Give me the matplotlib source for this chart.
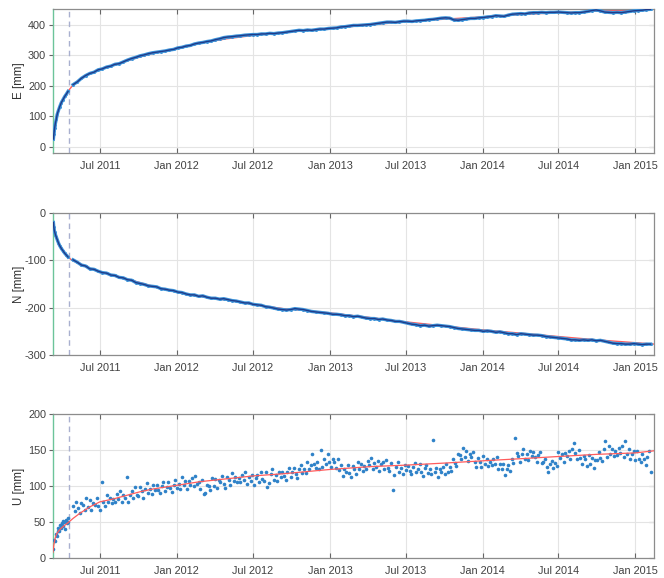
import numpy as np
import matplotlib
matplotlib.use('Agg')
import matplotlib.pyplot as plt
from matplotlib import font_manager

# ---------------- data ----------------
start = np.datetime64('2011-03-11')
span_days = 1436
event_day = 38

tick_dates = ['2011-07-01', '2012-01-01', '2012-07-01', '2013-01-01',
              '2013-07-01', '2014-01-01', '2014-07-01', '2015-01-01']
tick_labels = ['Jul 2011', 'Jan 2012', 'Jul 2012', 'Jan 2013',
               'Jul 2013', 'Jan 2014', 'Jul 2014', 'Jan 2015']

# fitted model curves (red)
fit_days = [0, 2, 5, 9, 17, 25, 38, 48, 64, 88, 112, 144, 176, 208, 240, 296,
            351, 415, 478, 550, 662, 760, 843, 940, 1027, 1120, 1208, 1300, 1392, 1437]
e_fit = [0, 40, 71, 100, 135, 157, 186, 203, 221, 240, 254, 268, 282, 295, 307, 324,
         340, 355, 366, 376, 389, 401, 411, 420, 427, 435, 441, 446, 450, 452]
n_fit = [-8, -30, -43, -53, -71, -82, -95, -101, -107, -117, -124, -132, -139, -147, -155, -167,
         -176, -184, -193, -202, -211, -221, -230, -239, -247, -254, -261, -268, -274, -277]
u_fit = [8, 18, 27, 34, 40, 44, 50, 55, 62, 71, 78, 82, 87, 92, 96, 101,
         106, 110, 114, 117, 123, 127, 129, 132, 135, 138, 141, 144, 146, 149]

# E / N observations
en_days_early = [1, 2, 3, 4, 5, 6, 8, 10, 13, 16, 20, 24, 28, 32, 36]
e_early = [25, 40, 52, 62, 71, 78, 91, 106, 119, 131, 145, 155, 165, 173, 182]
n_early = [-20, -30, -36, -40, -43, -46, -51, -56, -63, -69, -75, -80, -85, -89, -93]
en_days_late = np.arange(48, 1429, 10)
e_late = [204, 213, 225, 234, 241, 245, 253, 256, 262, 265,
          271, 273, 279, 285, 290, 294, 299, 302, 306, 309,
          311, 313, 315, 318, 320, 325, 327, 331, 333, 338,
          341, 343, 346, 348, 352, 355, 359, 361, 362, 364,
          365, 367, 368, 369, 369, 371, 371, 373, 372, 374,
          375, 377, 379, 381, 383, 382, 384, 383, 385, 387,
          387, 389, 390, 391, 394, 395, 397, 399, 399, 400,
          401, 402, 404, 406, 408, 410, 410, 409, 411, 413,
          413, 412, 414, 415, 416, 418, 419, 421, 423, 424,
          423, 417, 416, 418, 420, 422, 422, 424, 425, 427,
          428, 431, 430, 429, 433, 436, 437, 438, 437, 440,
          441, 441, 442, 441, 442, 442, 443, 442, 441, 440,
          441, 441, 443, 445, 448, 450, 447, 443, 442, 441,
          442, 441, 443, 445, 447, 448, 449, 451, 452]
n_late = [-99, -104, -110, -112, -118, -119, -123, -126, -127, -131,
          -132, -136, -137, -141, -142, -147, -149, -151, -154, -155,
          -156, -160, -161, -163, -164, -167, -168, -171, -173, -173,
          -176, -175, -178, -180, -180, -182, -181, -183, -185, -186,
          -188, -190, -190, -193, -194, -195, -198, -199, -201, -203,
          -204, -205, -204, -202, -203, -204, -206, -208, -209, -210,
          -211, -212, -214, -214, -215, -217, -217, -219, -218, -220,
          -222, -223, -223, -225, -224, -226, -227, -229, -229, -231,
          -233, -235, -236, -238, -237, -239, -238, -237, -238, -239,
          -240, -242, -244, -245, -246, -247, -248, -248, -250, -249,
          -250, -252, -251, -253, -255, -255, -257, -255, -256, -257,
          -258, -258, -259, -261, -262, -263, -264, -265, -266, -268,
          -268, -269, -268, -269, -268, -270, -269, -271, -273, -275,
          -276, -276, -277, -277, -276, -277, -278, -277, -277]

# U observations
u_days_early = np.arange(1, 38, 2)
u_early = [12, 25, 24, 33, 30, 38, 42, 37, 46, 41, 48, 52, 44, 50, 40, 53, 48, 55, 50]
u_days_late = np.arange(48, 1429, 4)
u_late = [72, 65, 78, 69, 62, 76, 73, 67, 83, 71, 80, 67, 77, 74, 83, 72, 67, 106, 78, 72, 88, 78, 84, 76, 82,
          78, 89, 82, 93, 78, 87, 83, 112, 78, 88, 93, 83, 98, 88, 86, 98, 93, 84, 96, 104, 90, 96, 89, 101, 95,
          101, 94, 90, 100, 106, 93, 99, 105, 97, 91, 102, 108, 97, 103, 96, 113, 102, 107, 96, 107, 102, 111, 100, 114, 103,
          106, 96, 108, 89, 90, 102, 100, 94, 111, 100, 110, 97, 108, 105, 114, 103, 97, 113, 108, 101, 118, 107, 113, 105, 111,
          105, 115, 108, 119, 103, 112, 107, 115, 102, 111, 115, 105, 119, 110, 107, 119, 98, 104, 116, 124, 109, 115, 107, 120, 113,
          120, 114, 109, 120, 125, 113, 119, 125, 117, 111, 123, 129, 118, 124, 118, 134, 124, 129, 145, 130, 125, 134, 124, 150, 127,
          138, 130, 144, 133, 126, 138, 134, 125, 138, 122, 129, 114, 123, 120, 129, 118, 113, 128, 124, 117, 134, 123, 130, 121, 128,
          124, 135, 129, 139, 123, 132, 127, 135, 121, 130, 134, 123, 136, 125, 121, 132, 94, 115, 126, 134, 119, 125, 117, 129, 122,
          128, 121, 116, 127, 132, 119, 124, 130, 120, 114, 125, 129, 118, 123, 116, 164, 120, 125, 113, 124, 119, 127, 116, 130, 119,
          126, 121, 138, 132, 128, 144, 143, 137, 153, 140, 149, 135, 144, 140, 147, 134, 126, 139, 133, 126, 142, 131, 137, 128, 134,
          129, 138, 131, 140, 123, 130, 123, 130, 115, 124, 129, 121, 138, 132, 166, 146, 141, 133, 144, 152, 138, 144, 136, 148, 141,
          147, 140, 134, 143, 147, 132, 134, 137, 126, 119, 130, 135, 125, 132, 128, 147, 139, 145, 134, 146, 141, 149, 138, 152, 160,
          146, 138, 150, 139, 131, 142, 137, 128, 143, 130, 139, 125, 136, 136, 147, 139, 135, 151, 163, 140, 156, 145, 151, 142, 148,
          143, 153, 146, 156, 140, 162, 144, 152, 137, 145, 148, 136, 148, 137, 133, 145, 138, 129, 140, 148, 120]

panels = [
    ('E [mm]', e_fit, en_days_early, e_early, en_days_late, e_late, (-21, 453), [0, 100, 200, 300, 400], 'line'),
    ('N [mm]', n_fit, en_days_early, n_early, en_days_late, n_late, (-300, 0), [-300, -200, -100, 0], 'line'),
    ('U [mm]', u_fit, u_days_early, u_early, u_days_late, u_late, (0, 200), [0, 50, 100, 150, 200], 'dots'),
]

# ---------------- style ----------------
names = {f.name for f in font_manager.fontManager.ttflist}
tick_font = 'Liberation Sans Narrow' if 'Liberation Sans Narrow' in names else 'Liberation Sans'
plt.rcParams['font.family'] = [tick_font, 'DejaVu Sans']
plt.rcParams['axes.unicode_minus'] = False

def to_dates(days):
    return start + np.asarray(days).astype('timedelta64[D]')

fig = plt.figure(figsize=(6.64, 5.78), dpi=100)
rects = [(0.0798, 0.7353, 0.905, 0.2491),
         (0.0798, 0.3858, 0.905, 0.2457),
         (0.0798, 0.0346, 0.905, 0.2491)]

light_blue = '#3f95da'
dark_blue = '#1f3b8a'
red = '#ff5c5c'
label_size = 8.5 if tick_font.endswith('Narrow') else 7.8

for rect, (label, fit, d_early, v_early, d_late, v_late, ylim, yticks, kind) in zip(rects, panels):
    ax = fig.add_axes(rect)
    ax.set_xlim(to_dates([0])[0], to_dates([span_days])[0])
    ax.set_ylim(*ylim)
    ax.set_yticks(yticks)
    ax.set_xticks(np.array(tick_dates, dtype='datetime64[D]'))
    ax.set_xticklabels(tick_labels)
    ax.grid(True, color='#e4e4e4', lw=0.8)
    ax.set_axisbelow(True)

    ax.axvline(to_dates([event_day])[0], color='#a9b0cf', lw=1.0, ls=(0, (4, 3)), zorder=1)

    if kind == 'line':
        ax.plot(to_dates(fit_days), fit, color=red, lw=1.0, zorder=2)
        for dd, vv in ((d_early, v_early), (d_late, v_late)):
            ax.plot(to_dates(dd), vv, color=light_blue, lw=2.4, zorder=3)
            ax.plot(to_dates(dd), vv, ls='none', marker='o', ms=2.2, mew=0,
                    color=light_blue, zorder=3)
            ax.plot(to_dates(dd), vv, color=dark_blue, lw=1.0, zorder=4)
    else:
        for dd, vv in ((d_early, v_early), (d_late, v_late)):
            ax.plot(to_dates(dd), vv, ls='none', marker='o', ms=2.6, mew=0,
                    color='#2f82c8', zorder=3)
        ax.plot(to_dates(fit_days), fit, color=red, lw=0.9, zorder=4)

    for side in ('top', 'right', 'bottom'):
        ax.spines[side].set_color('#8c8c8c')
        ax.spines[side].set_linewidth(0.9)
    ax.spines['left'].set_color('#6cc49a')
    ax.spines['left'].set_linewidth(1.0)

    ax.tick_params(axis='x', which='both', direction='in', length=3.5, top=True,
                   color='#666666', labelsize=label_size, labelcolor='#404040', pad=6)
    ax.tick_params(axis='y', which='both', direction='out', length=3, right=False,
                   color='#666666', labelsize=label_size, labelcolor='#404040', pad=2)
    sec = ax.secondary_yaxis('right')
    sec.set_yticks(yticks)
    sec.tick_params(direction='in', length=3.5, color='#666666', labelright=False)
    sec.spines['right'].set_visible(False)

    ax.set_ylabel(label, fontsize=label_size + 0.5, color='#303030')
    ax.yaxis.set_label_coords(-0.047, 0.5)

fig.savefig('out.png', dpi=100)
